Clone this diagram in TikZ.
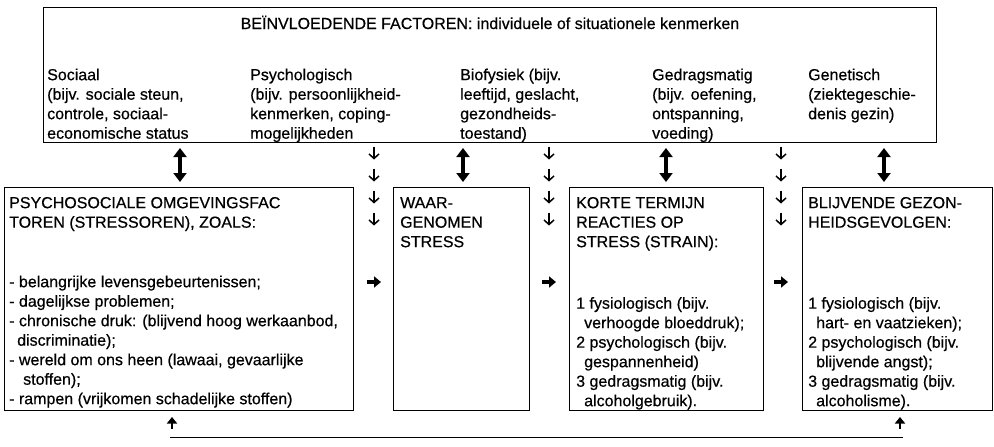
\documentclass[tikz,border=0pt]{standalone}
\usepackage{fontspec}
\setmainfont[FakeBold=0.5]{Liberation Sans}
\usetikzlibrary{arrows.meta}
\begin{document}
\begin{tikzpicture}[x=1pt,y=-1pt,
  frame/.style={draw, line width=1.1pt, inner sep=0pt, anchor=north west},
  txt/.style={font=\fontsize{16}{19.5}\selectfont, inner sep=0pt, anchor=north west, align=left},
  hdr/.style={font=\fontsize{16}{19.5}\selectfont, inner sep=0pt, anchor=base},
  dblarr/.style={line width=3.4pt, {Triangle[length=9pt,width=13pt]}-{Triangle[length=9pt,width=13pt]}},
  downarr/.style={line width=1.5pt, -{Straight Barb[length=4.5pt,width=10pt]}},
  rightarr/.style={line width=3.2pt, -{Triangle[length=7pt,width=11pt]}},
  uparr/.style={line width=2.8pt, -{Triangle[length=6.5pt,width=10pt]}},
  baseline/.style={line width=0.8pt}
]
\useasboundingbox (0,0) rectangle (994,447);

% boxes
\node[frame, minimum width=893pt, minimum height=135pt] (top) at (43,7) {};
\node[frame, minimum width=349pt, minimum height=223pt] (b1) at (4,187) {};
\node[frame, minimum width=136pt, minimum height=223pt] (b2) at (393,187) {};
\node[frame, minimum width=194pt, minimum height=223pt] (b3) at (569,187) {};
\node[frame, minimum width=190pt, minimum height=223pt] (b4) at (802,187) {};

% top box texts
\node[hdr] (head) at (490,29) {BEÏNVLOEDENDE FACTOREN: individuele of situationele kenmerken};
\node[txt] (c1) at (47,66.35) {\strut Sociaal\\(bijv. sociale steun,\\controle, sociaal-\\economische status};
\node[txt] (c2) at (250,66.35) {\strut Psychologisch\\(bijv. persoonlijkheid-\\kenmerken, coping-\\mogelijkheden};
\node[txt] (c3) at (460,66.35) {\strut Biofysiek (bijv.\\leeftijd, geslacht,\\gezondheids-\\toestand)};
\node[txt] (c4) at (652,66.35) {\strut Gedragsmatig\\(bijv. oefening,\\ontspanning,\\voeding)};
\node[txt] (c5) at (808,66.35) {\strut Genetisch\\(ziektegeschie-\\denis gezin)};

% lower box texts
\node[txt] (t1) at (9,194.35) {\strut PSYCHOSOCIALE OMGEVINGSFAC\\TOREN (STRESSOREN), ZOALS:\\[40pt]- belangrijke levensgebeurtenissen;\\- dagelijkse problemen;\\- chronische druk: (blijvend hoog werkaanbod,\\\hspace*{8pt}discriminatie);\\- wereld om ons heen (lawaai, gevaarlijke\\\hspace*{14pt}stoffen);\\- rampen (vrijkomen schadelijke stoffen)};
\node[txt] (t2) at (400,194.35) {\strut WAAR-\\GENOMEN\\STRESS};
\node[txt] (t3) at (576,194.35) {\strut KORTE TERMIJN\\REACTIES OP\\STRESS (STRAIN):\\[42pt]1 fysiologisch (bijv.\\\hspace*{8pt}verhoogde bloeddruk);\\2 psychologisch (bijv.\\\hspace*{8pt}gespannenheid)\\3 gedragsmatig (bijv.\\\hspace*{8pt}alcoholgebruik).};
\node[txt] (t4) at (808,194.35) {\strut BLIJVENDE GEZON-\\HEIDSGEVOLGEN:\\[61.5pt]1 fysiologisch (bijv.\\\hspace*{8pt}hart- en vaatzieken);\\2 psychologisch (bijv.\\\hspace*{8pt}blijvende angst);\\3 gedragsmatig (bijv.\\\hspace*{8pt}alcoholisme).};

% double arrows between top box and lower boxes
\foreach \i/\x in {1/180,2/463,3/666,4/884}{
  \coordinate (du\i) at (\x,148);
  \coordinate (dl\i) at (\x,182);
  \draw[dblarr] (du\i) -- (dl\i);
}

% columns of small down arrows and the right arrows
\foreach \i/\x in {1/374,2/549,3/781}{
  \foreach \j/\y in {1/153,2/175,3/197,4/219}{
    \coordinate (sa\i\j) at (\x,\y-6.5);
    \coordinate (sb\i\j) at (\x,\y+6.5);
    \draw[downarr] (sa\i\j) -- (sb\i\j);
  }
  \coordinate (ra\i) at (\x-7,282);
  \coordinate (rb\i) at (\x+7,282);
  \draw[rightarr] (ra\i) -- (rb\i);
}

% feedback at the bottom
\coordinate (fl) at (170,437);
\coordinate (fr) at (903,437);
\draw[baseline] (fl) -- (fr);
\coordinate (ua1) at (172,429);
\coordinate (ub1) at (172,417);
\coordinate (ua2) at (900,429);
\coordinate (ub2) at (900,417);
\draw[uparr] (ua1) -- (ub1);
\draw[uparr] (ua2) -- (ub2);
\end{tikzpicture}
\end{document}
